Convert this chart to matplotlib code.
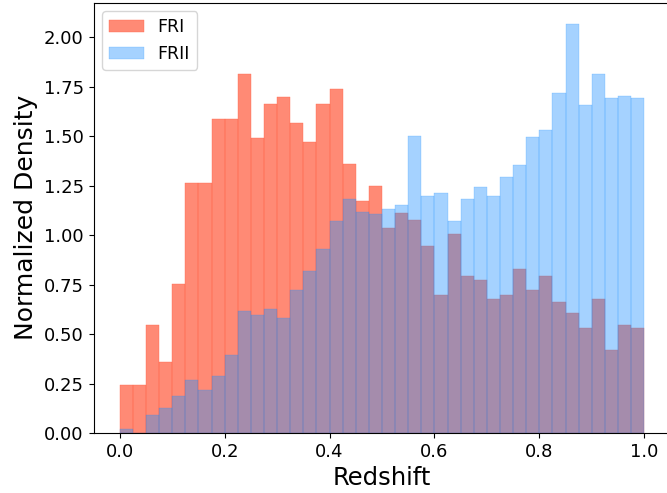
import numpy as np
import matplotlib
matplotlib.use("Agg")
import matplotlib.pyplot as plt

bin_edges = np.linspace(0.0, 1.0, 41)
fri_density = [0.245, 0.245, 0.548, 0.361, 0.755, 1.265, 1.265, 1.588, 1.588, 1.816,
               1.492, 1.664, 1.699, 1.568, 1.472, 1.664, 1.740, 1.361, 1.174, 1.250,
               1.038, 1.114, 1.078, 0.947, 0.699, 1.003, 0.795, 0.775, 0.679, 0.699,
               0.831, 0.720, 0.795, 0.664, 0.604, 0.528, 0.679, 0.417, 0.548, 0.528]
frii_density = [0.018, 0.0, 0.093, 0.124, 0.189, 0.270, 0.219, 0.287, 0.396, 0.614,
                0.598, 0.629, 0.583, 0.725, 0.820, 0.931, 1.073, 1.184, 1.119, 1.104,
                1.134, 1.154, 1.498, 1.199, 1.215, 1.073, 1.184, 1.245, 1.199, 1.295,
                1.356, 1.497, 1.532, 1.720, 2.068, 1.659, 1.816, 1.690, 1.705, 1.690]
labels = ["FRI", "FRII"]

centers = 0.5 * (bin_edges[:-1] + bin_edges[1:])

fig = plt.figure(figsize=(6.67, 4.93), dpi=100)
ax = fig.add_axes([93.5 / 667, 60 / 493, 577 / 667, 430.5 / 493])

ax.hist(centers, bins=bin_edges, weights=fri_density, color="tomato", alpha=0.75,
        edgecolor="tomato", linewidth=0.35, label=labels[0])
ax.hist(centers, bins=bin_edges, weights=frii_density, color="dodgerblue", alpha=0.4,
        edgecolor="dodgerblue", linewidth=0.35, label=labels[1])

ax.set_xlim(-0.05, 1.05)
ax.set_ylim(0, 2.175)
ax.set_yticks([0, 0.25, 0.5, 0.75, 1.0, 1.25, 1.5, 1.75, 2.0])
ax.yaxis.set_major_formatter(matplotlib.ticker.FormatStrFormatter("%.2f"))
ax.set_xticks([0.0, 0.2, 0.4, 0.6, 0.8, 1.0])
ax.tick_params(labelsize=13)
ax.set_xlabel("Redshift", fontsize=17.5)
ax.set_ylabel("Normalized Density", fontsize=18)
ax.legend(loc="upper left", fontsize=12.5)

fig.savefig("out.png", dpi=100)
